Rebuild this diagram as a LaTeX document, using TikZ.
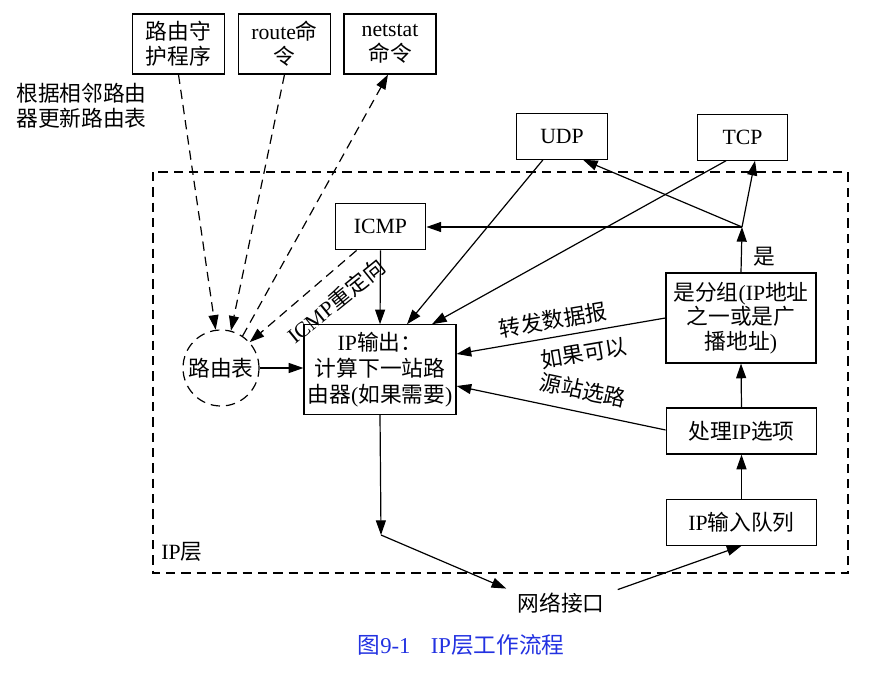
\documentclass[tikz,border=0pt]{standalone}
\usepackage{fontspec}
\setmainfont{Liberation Serif}
\newfontfamily\cjk{Noto Sans CJK SC}
\newcommand\zh[1]{{\cjk #1}}
\usetikzlibrary{arrows.meta,calc}
\definecolor{capblue}{RGB}{35,50,225}
\tikzset{
  box/.style={draw, line width=0.9pt, inner sep=0pt, align=center, font=\fontsize{16.3}{18.5}\selectfont},
  lbl/.style={inner sep=0pt, align=center, font=\fontsize{16.3}{18.5}\selectfont},
  arr/.style={line width=0.9pt, -{Triangle[length=11pt,width=7.5pt]}},
  dsh/.style={dash pattern=on 7pt off 4.5pt},
}
\begin{document}
\begin{tikzpicture}[x=0.75pt,y=-0.75pt]
\useasboundingbox (0,0) rectangle (888,681);
% IP layer frame
\draw[line width=0.9pt,dsh] (153,172) rectangle (848,573);
\node[lbl,anchor=west] (iplayer) at (161,552) {IP\zh{层}};
% top boxes
\node[box,minimum width=68.5pt,minimum height=45pt] (daemon) at (178.5,44) {\zh{路由守}\\\zh{护程序}};
\node[box,minimum width=68.5pt,minimum height=45pt] (route) at (284.5,44) {route\zh{命}\\\zh{令}};
\node[box,minimum width=69pt,minimum height=45pt] (netstat) at (390,44) {netstat\\\zh{命令}};
\node[lbl,anchor=west,align=left] (note) at (16,106) {\zh{根据相邻路由}\\\zh{器更新路由表}};
\node[box,minimum width=68pt,minimum height=34pt] (udp) at (562,136.5) {UDP};
\node[box,minimum width=68pt,minimum height=34pt] (tcp) at (742.5,137.5) {TCP};
\node[box,minimum width=68pt,minimum height=35pt] (icmp) at (380.5,226.5) {ICMP};
\node[box,minimum width=114pt,minimum height=67pt,font=\fontsize{16.3}{19.5}\selectfont] (ipout) at (380,369.5) {IP\zh{输出：}\\\zh{计算下一站路}\\\zh{由器}(\zh{如果需要})};
\node[box,minimum width=112.5pt,minimum height=67.5pt] (dec) at (741,318) {\zh{是分组}(IP\zh{地址}\\\zh{之一或是广}\\\zh{播地址})};
\node[box,minimum width=113pt,minimum height=34.5pt] (opt) at (741.5,431) {\zh{处理}IP\zh{选项}};
\node[box,minimum width=113pt,minimum height=34pt] (inq) at (741.5,522.5) {IP\zh{输入队列}};
\node[draw,circle,dsh,line width=0.9pt,minimum size=57pt,inner sep=0pt,font=\fontsize{16.3}{18.5}\selectfont] (rt) at (221,368) {\zh{路由表}};
\node[lbl] (net) at (561,603) {\zh{网络接口}};
\coordinate (j) at (742,227);
\coordinate (k) at (381,535);
% dashed connectors
\draw[arr,dsh] (daemon.south) -- (rt.98);
\draw[arr,dsh] (route.south) -- (rt.75);
\draw[arr,dsh] (rt.56) -- ($(netstat.south)+(-2,0)$);
\draw[arr,dsh] ($(icmp.south west)+(22,0)$) -- (rt.42);
% solid connectors
\draw[arr] (rt.east) -- (rt.east -| ipout.west);
\draw[arr] (icmp.south) -- (ipout.north);
\draw[arr] ($(udp.south)+(-19,0)$) -- ($(ipout.north)+(27,0)$);
\draw[arr] ($(tcp.south)+(-16.5,0)$) -- ($(ipout.north)+(52,0)$);
\draw[arr] (dec.north) -- (j);
\draw[arr] (j) -- ($(tcp.south)+(12.5,0)$);
\draw[arr] (j) -- ($(udp.south)+(21,0)$);
\draw[arr] (j) -- (j -| icmp.east);
\draw[arr] (dec.west) -- ($(ipout.east)+(0,-15.5)$);
\draw[arr] ($(opt.west)+(0,-1)$) -- ($(ipout.east)+(0,16.5)$);
\draw[arr] (inq.north) -- (opt.south);
\draw[arr] (opt.north) -- (dec.south);
\draw[arr] (ipout.south) -- (k);
\draw[arr] (k) -- ($(net.north west)+(-11,-4)$);
\draw[arr] ($(net.north east)+(13,-3)$) -- (inq.south);
% labels
\node[lbl] (yes) at (764,257) {\zh{是}};
\node[lbl,rotate=9.7] (fwd) at (553,320) {\zh{转发数据报}};
\node[lbl,rotate=9.7] (ifok) at (584,353) {\zh{如果可以}};
\node[lbl,rotate=-12] (srcrt) at (583,390) {\zh{源站选路}};
\node[lbl,rotate=39] (redir) at (336,301) {ICMP\zh{重定向}};
% caption
\node[inner sep=0pt,text=capblue,font=\fontsize{17}{20}\selectfont] (cap) at (461,645) {\zh{图}9-1\hspace{0.9em}IP\zh{层工作流程}};
\end{tikzpicture}
\end{document}
